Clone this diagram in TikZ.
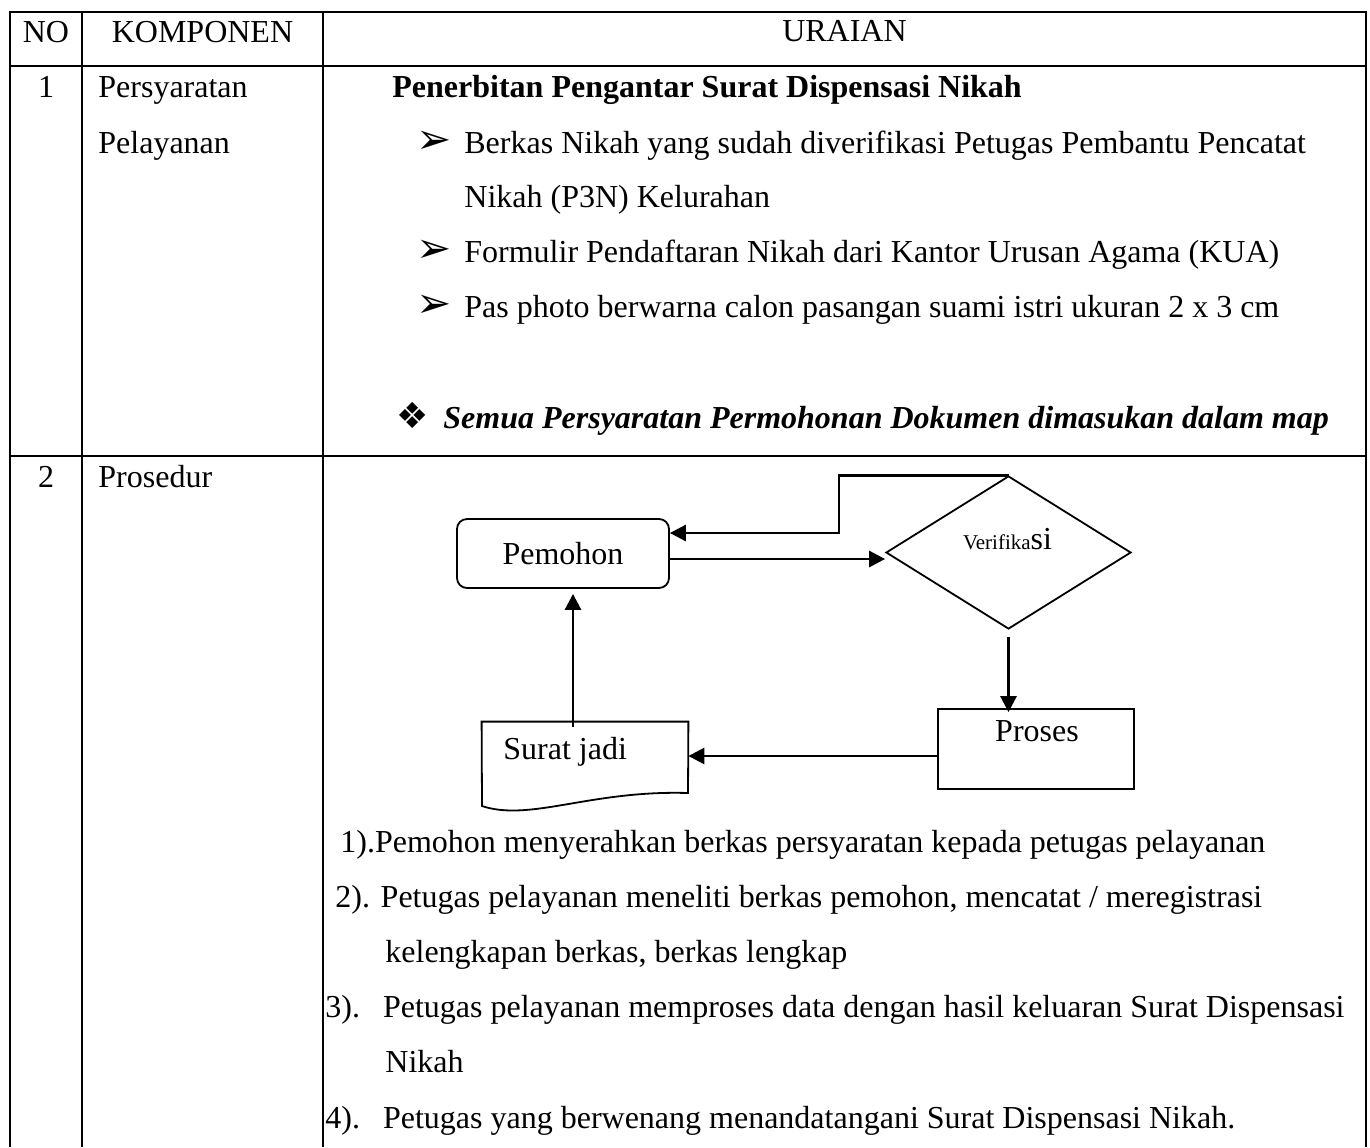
\documentclass[tikz,border=0pt]{standalone}
\usepackage{fontspec}
\setmainfont{Liberation Serif}
\newfontfamily\dingfont{DejaVu Sans}
\usetikzlibrary{shapes.geometric,arrows.meta}

\newcommand\bodyfont{\fontsize{16pt}{19pt}\selectfont}
\newcommand\smallverif{\fontsize{10.5pt}{12pt}\selectfont}
\newcommand\arrowbullet{{\dingfont\fontsize{21pt}{22pt}\selectfont ➢}}
\newcommand\diamondbullet{{\dingfont\fontsize{18pt}{20pt}\selectfont ❖}}

\begin{document}
\begin{tikzpicture}[x=0.5pt,y=-0.5pt,
  grid/.style={line width=1.35pt},
  txt/.style={inner sep=0pt,anchor=base west,font=\bodyfont},
  ctxt/.style={inner sep=0pt,anchor=base,font=\bodyfont},
  ding/.style={inner sep=0pt,anchor=base west},
  box/.style={draw,line width=0.9pt,inner sep=0pt},
  flow/.style={line width=1.4pt,-{Triangle[length=8pt,width=8pt]}},
]
\useasboundingbox (0,0) rectangle (1370,1147);

% table grid
\draw[grid] (10,1147) -- (10,12) -- (1366,12) -- (1366,1147);
\draw[grid] (10,66) -- (1366,66);
\draw[grid] (10,456) -- (1366,456);
\draw[grid] (82,12) -- (82,1147);
\draw[grid] (323,12) -- (323,1147);

% header
\node[ctxt] (hno) at (46,42) {NO};
\node[ctxt] (hkomp) at (202.5,42) {KOMPONEN};
\node[ctxt] (huraian) at (844.5,41) {URAIAN};

% row 1
\node[ctxt] (n1) at (46,97) {1};
\node[txt] (k1a) at (98,97) {Persyaratan};
\node[txt] (k1b) at (98,153) {Pelayanan};
\node[txt,font=\bodyfont\bfseries] (title) at (392,97) {Penerbitan Pengantar Surat Dispensasi Nikah};
\node[ding] (b1) at (416,153) {\arrowbullet};
\node[txt] (i1a) at (464,153) {Berkas Nikah yang sudah diverifikasi Petugas Pembantu Pencatat};
\node[txt] (i1b) at (464,207) {Nikah (P3N) Kelurahan};
\node[ding] (b2) at (416,262) {\arrowbullet};
\node[txt] (i2) at (464,262) {Formulir Pendaftaran Nikah dari Kantor Urusan Agama (KUA)};
\node[ding] (b3) at (416,317) {\arrowbullet};
\node[txt] (i3) at (464,317) {Pas photo berwarna calon pasangan suami istri ukuran 2 x 3 cm};
\node[ding] (b4) at (396,428) {\diamondbullet};
\node[txt,font=\bodyfont\bfseries\itshape] (note) at (443,428) {Semua Persyaratan Permohonan Dokumen dimasukan dalam map};

% row 2
\node[ctxt] (n2) at (46,487) {2};
\node[txt] (k2) at (98,487) {Prosedur};

% flowchart
\node[box,rounded corners=5pt,minimum width=106pt,minimum height=34.5pt,font=\bodyfont] (pemohon) at (563,553.5) {Pemohon};
\node[box,diamond,aspect=1.6,minimum width=122.5pt,minimum height=76.5pt] (verif) at (1008.5,552.5) {};
\node[ctxt] (verlbl) at (1007.5,549) {{\smallverif Verifika}si};
\node[box,minimum width=98pt,minimum height=40pt] (proses) at (1036,749) {};
\node[ctxt] (proslbl) at (1037,741) {Proses};
\node[inner sep=0pt,minimum width=103pt,minimum height=34pt] (surat) at (585,756) {};
\draw[line width=0.9pt] (surat.north west) -- (surat.north east) -- (688,793)
  .. controls (590,790) and (530,822) .. (482,806) -- cycle;
\node[txt] (suratlbl) at (503,759) {Surat jadi};

\coordinate (pv) at ([yshift=-2.75pt]pemohon.east);
\draw[flow] (pv) -- (pv -| verif.west);
\coordinate (fb) at (839,533);
\draw[flow] (verif.north) -| (fb) -- (fb -| pemohon.east);
\coordinate (vd) at ([yshift=-3.5pt]verif.south);
\draw[flow,shorten >=-2pt] (vd) -- (vd |- proses.north);
\draw[flow] (proses.west |- surat.east) -- (surat.east);
\coordinate (up) at (573,727);
\draw[flow,shorten >=2.5pt] (up) -- (up |- pemohon.south);

% procedure steps
\node[txt] (s1) at (340,852) {1).Pemohon menyerahkan berkas persyaratan kepada petugas pelayanan};
\node[txt] (s2a) at (335,907) {2). Petugas pelayanan meneliti berkas pemohon, mencatat / meregistrasi};
\node[txt] (s2b) at (385,962) {kelengkapan berkas, berkas lengkap};
\node[txt] (s3a) at (325,1017) {3).\hspace{11.5pt}Petugas pelayanan memproses data dengan hasil keluaran Surat Dispensasi};
\node[txt] (s3b) at (385,1072) {Nikah};
\node[txt] (s4) at (325,1128) {4).\hspace{11.5pt}Petugas yang berwenang menandatangani Surat Dispensasi Nikah.};
\end{tikzpicture}
\end{document}
